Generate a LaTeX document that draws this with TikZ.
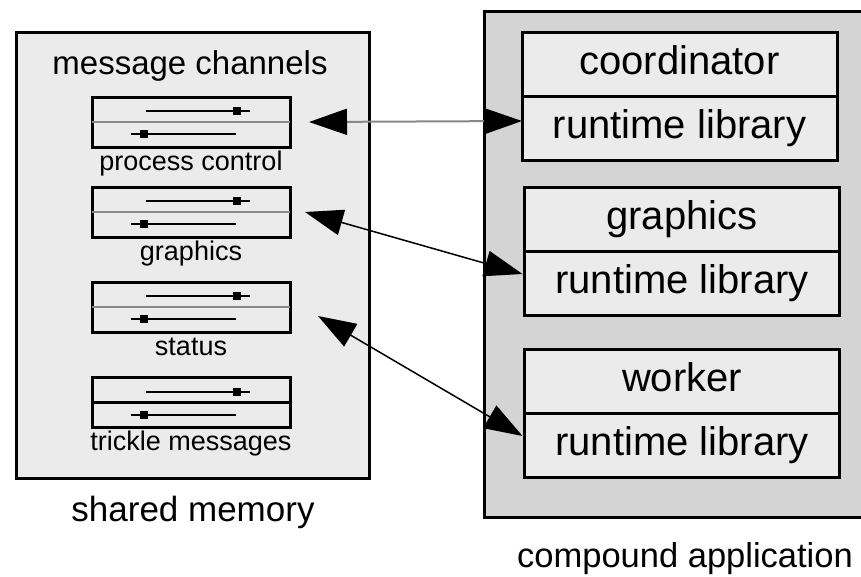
\documentclass[tikz,border=0pt]{standalone}
\usepackage{fontspec}
\setmainfont{Liberation Sans}
\usetikzlibrary{calc}
\usetikzlibrary{positioning}
\usetikzlibrary{arrows.meta}

\definecolor{paleg}{HTML}{EBEBEB}
\definecolor{darkg}{HTML}{D4D4D4}
\definecolor{midg}{HTML}{888888}

\begin{document}
\begin{tikzpicture}[x=1pt,y=-1pt,
        outerbox/.style={draw, line width=3pt, outer sep=0pt, inner sep=0pt},
        chanbox/.style={draw, line width=3pt, fill=paleg, outer sep=0pt, inner sep=0pt,
            minimum width=198, minimum height=50},
        partbox/.style={draw, line width=3pt, fill=paleg, outer sep=0pt, inner sep=0pt,
            minimum width=315, minimum height=64, text height=29, text depth=8,
            font=\fontsize{40}{40}\selectfont},
        smalltext/.style={anchor=base, font=\fontsize{27}{27}\selectfont},
        bigtext/.style={anchor=base, font=\fontsize{35}{35}\selectfont},
        link/.style={line width=1.5pt,
            {Triangle[length=38pt,width=26pt,color=black]}-{Triangle[length=38pt,width=26pt,color=black]}}]

        \fill[white] (0,0) rectangle (861,576);
        \useasboundingbox (0,0) rectangle (861,576);

        % shared memory side
        \node (shm) at (192.5,255) [outerbox, fill=paleg, minimum width=353, minimum height=446] {};
        \node (chanhead) at (190,74) [bigtext, font=\fontsize{33}{33}\selectfont] {message channels};
        \node (shmlabel) at (193,521) [bigtext] {shared memory};

        \foreach \y/\n/\mid/\lab in {122/1/midg/process control, 212/2/midg/graphics,
                307/3/midg/status, 402.5/4/black/trickle messages} {
            \node (chan\n) at (191,\y) [chanbox] {};
            \draw [\mid, line width=2.5pt] (chan\n.west) -- (chan\n.east);
            \draw [line width=2pt] ($(chan\n.center)+(-45,-11)$) -- ($(chan\n.center)+(59,-11)$);
            \fill ($(chan\n.center)+(42,-15)$) rectangle ++(8,8);
            \draw [line width=2pt] ($(chan\n.center)+(-60,12)$) -- ($(chan\n.center)+(45,12)$);
            \fill ($(chan\n.center)+(-51,8)$) rectangle ++(8,8);
            \node (lab\n) at ($(chan\n.south)+(0,23)$) [smalltext] {\lab};
        }

        % compound application side
        \node (app) at (677,264) [outerbox, fill=darkg, minimum width=386, minimum height=506] {};
        \node (applabel) at (685,567) [bigtext, font=\fontsize{34.5}{34.5}\selectfont] {compound application};

        \foreach \top/\x/\name/\n in {32/679.5/coordinator/1, 187/682/graphics/2, 349/682/worker/3} {
            \node (proc\n) at (\x,\top+32) [partbox] {\name};
            \node (lib\n) [partbox, below=0pt of proc\n] {runtime library};
        }

        % connectors
        \coordinate (c1) at ($(chan1.east)+(19,0)$);
        \coordinate (c2) at ($(chan2.east)+(15,0)$);
        \coordinate (c3) at ($(chan3.east)+(28,9)$);
        \coordinate (t1) at ($(lib1.west)+(0,-7)$);
        \coordinate (t2) at ($(lib2.west)+(-2,-9)$);
        \coordinate (t3) at ($(lib3.west)+(-2,-9)$);

        \draw [link, midg, line width=2pt] (c1) -- (t1);
        \draw [link] (c2) -- (t2);
        \draw [link] (c3) -- (t3);
    \end{tikzpicture}
\end{document}
